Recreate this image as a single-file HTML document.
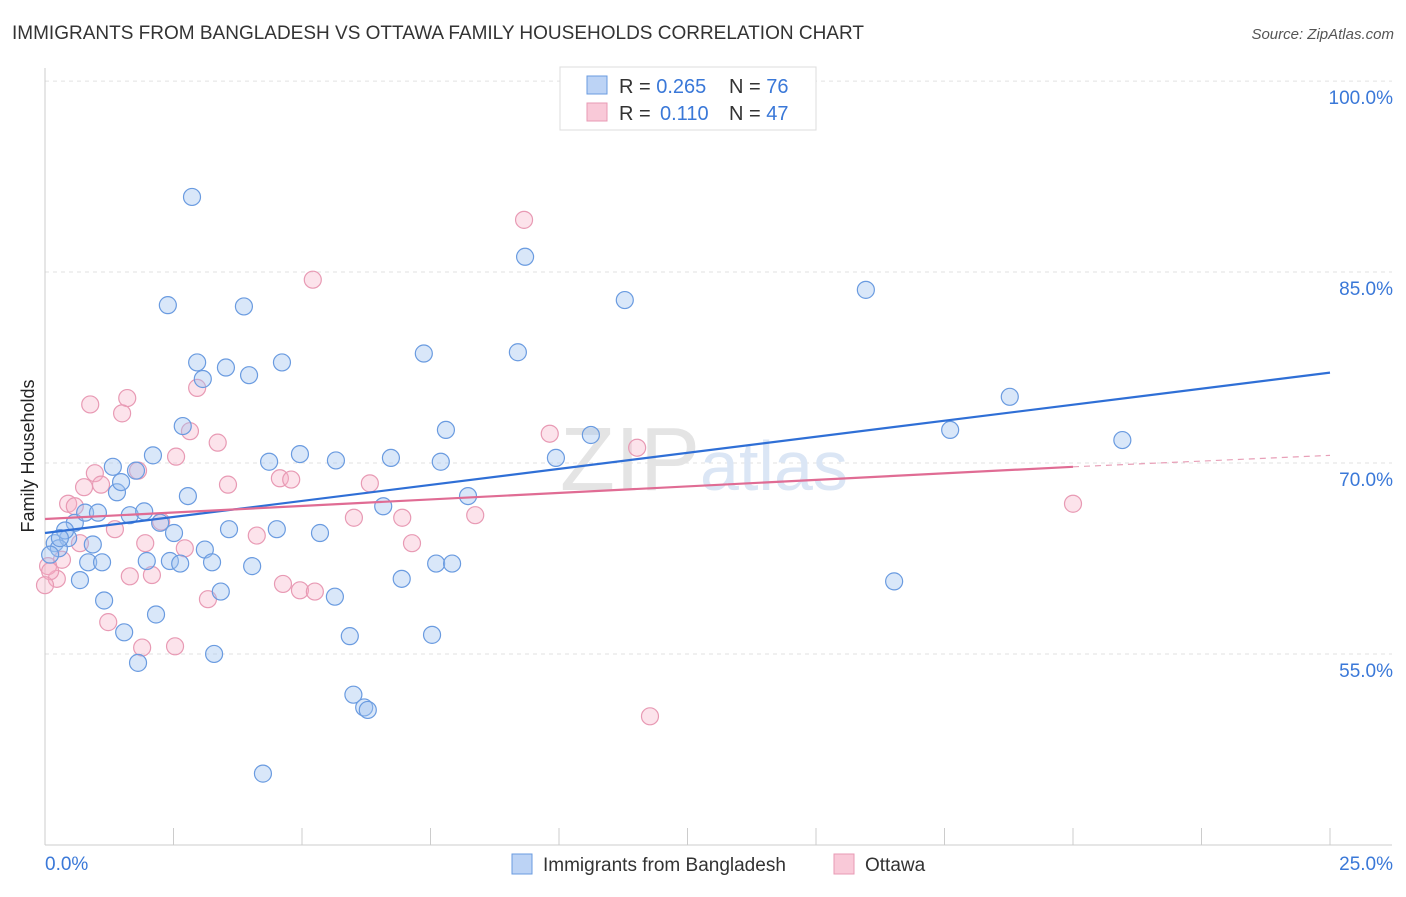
<!DOCTYPE html>
<html><head><meta charset="utf-8">
<style>
body{margin:0;background:#fff;font-family:"Liberation Sans",sans-serif;}
svg text{font-family:"Liberation Sans",sans-serif;}
</style></head>
<body>
<svg id="chart" width="1406" height="892" xmlns="http://www.w3.org/2000/svg">
<text x="12" y="39" font-size="19" fill="#333">IMMIGRANTS FROM BANGLADESH VS OTTAWA FAMILY HOUSEHOLDS CORRELATION CHART</text>
<text x="1394" y="39" font-size="15" fill="#555" font-style="italic" text-anchor="end">Source: ZipAtlas.com</text>
<text x="0" y="0" transform="translate(34,456) rotate(-90)" font-size="18" fill="#222" text-anchor="middle">Family Households</text>
<g id="grid"></g>
<g id="ticks"></g>
<text x="560" y="490" font-size="90" fill="#e4e4e4" font-family="Liberation Serif">ZIP<tspan fill="#dbe6f5" font-family="Liberation Sans" font-size="70">atlas</tspan></text>
<g id="pts"></g>
<g id="lines"></g>
<g>
<rect x="560" y="67" width="256" height="63" fill="#fff" stroke="#ddd"/>
<rect x="587" y="76" width="20" height="18" fill="#bcd3f5" stroke="#6a9be0"/>
<rect x="587" y="103" width="20" height="18" fill="#f9c9d8" stroke="#e89ab4"/>
<text x="619" y="93" font-size="20" fill="#333">R = <tspan fill="#3a78d8">0.265</tspan><tspan x="729">N = </tspan><tspan fill="#3a78d8">76</tspan></text>
<text x="619" y="120" font-size="20" fill="#333">R = <tspan fill="#3a78d8" x="660">0.110</tspan><tspan x="729">N = </tspan><tspan fill="#3a78d8">47</tspan></text>
</g>
<g>
<rect x="512" y="854" width="20" height="20" fill="#bcd3f5" stroke="#6a9be0"/>
<text x="543" y="871" font-size="19" fill="#333">Immigrants from Bangladesh</text>
<rect x="834" y="854" width="20" height="20" fill="#f9c9d8" stroke="#e89ab4"/>
<text x="865" y="871" font-size="19" fill="#333">Ottawa</text>
</g>
</svg>
<script>
const yTicks=[55,70,85,100];
const yTickLabels=["55.0%","70.0%","85.0%","100.0%"];
const xTickLabels=["0.0%","25.0%"];
const blueX=[2.86,9.34,2.39,3.87,11.28,15.97,7.37,9.2,2.96,4.61,3.52,3.07,3.97,18.77,17.61,20.96,2.68,7.8,10.62,2.1,4.96,6.73,5.66,7.7,9.94,1.32,1.77,4.36,1.4,1.48,2.78,8.23,6.58,0.58,0.78,1.03,1.65,1.93,2.24,2.51,3.58,4.51,5.35,0.19,0.45,0.93,0.27,3.11,0.1,0.84,1.11,1.98,2.43,2.63,3.25,4.03,7.61,7.92,6.94,0.68,16.52,3.42,1.15,5.64,2.16,1.54,5.93,7.53,1.81,3.29,6.0,6.21,6.28,4.24,0.39,0.29];
const blueY=[90.9,86.2,82.4,82.3,82.8,83.6,78.6,78.7,77.9,77.9,77.5,76.6,76.9,75.2,72.6,71.8,72.9,72.6,72.2,70.6,70.7,70.4,70.2,70.1,70.4,69.7,69.4,70.1,67.7,68.5,67.4,67.4,66.6,65.3,66.1,66.1,65.9,66.2,65.3,64.5,64.8,64.8,64.5,63.7,64.1,63.6,63.3,63.2,62.8,62.2,62.2,62.3,62.3,62.1,62.2,61.9,62.1,62.1,60.9,60.8,60.7,59.9,59.2,59.5,58.1,56.7,56.4,56.5,54.3,55.0,51.8,50.8,50.6,45.6,64.7,64.1];
const pinkX=[9.32,5.21,1.6,0.88,1.5,2.96,2.82,3.36,9.82,11.52,2.55,1.81,0.97,1.09,0.76,3.56,4.57,4.79,6.32,0.45,0.58,8.37,6.01,6.95,20.0,2.26,1.36,4.12,7.14,0.68,0.33,2.72,1.95,1.65,2.08,0.23,4.63,4.96,5.25,3.17,1.23,1.89,2.53,11.77,0.06,0.1,0.0];
const pinkY=[89.1,84.4,75.1,74.6,73.9,75.9,72.5,71.6,72.3,71.2,70.5,69.4,69.2,68.3,68.1,68.3,68.8,68.7,68.4,66.8,66.6,65.9,65.7,65.7,66.8,65.4,64.8,64.3,63.7,63.7,62.4,63.3,63.7,61.1,61.2,60.9,60.5,60.0,59.9,59.3,57.5,55.5,55.6,50.1,61.9,61.5,60.4];
const blueTrend=[64.5,77.1];
const pinkTrend=[65.6,69.7,70.6]; // at x=0, 20, 25
const NS="http://www.w3.org/2000/svg";
const X=v=>45+v*51.4, Y=v=>463-(v-70)*12.73;
function mk(t,a,p){const e=document.createElementNS(NS,t);for(const k in a)e.setAttribute(k,a[k]);p.appendChild(e);return e;}
const grid=document.getElementById('grid'),ticks=document.getElementById('ticks');
yTicks.forEach((v,i)=>{
 const l=mk('line',{x1:45,x2:1392,y1:Y(v),y2:Y(v),stroke:'#e2e2e2','stroke-dasharray':'4,4'},grid);
 
 
 const t=mk('text',{x:1393,y:Y(v)+23,'font-size':19,fill:'#3a78d8','text-anchor':'end'},ticks);
 t.textContent=yTickLabels[i];
 
 
});
mk('line',{x1:45,x2:45,y1:68,y2:845,stroke:'#ccc'},ticks);
mk('line',{x1:45,x2:1392,y1:845,y2:845,stroke:'#ccc'},ticks);
for(let i=0;i<=10;i++){mk('line',{x1:X(i*2.5),x2:X(i*2.5),y1:828,y2:845,stroke:'#ccc'},ticks);}
[[0,45,'start'],[1,1393,'end']].forEach(([i,x,a])=>{const t=mk('text',{x:x,y:870,'font-size':19,fill:'#3a78d8','text-anchor':a},ticks);t.textContent=xTickLabels[i];
 
 });
const pts=document.getElementById('pts');
pinkX.forEach((x,i)=>{const c=mk('circle',{cx:X(x),cy:Y(pinkY[i]),r:8.5,fill:'rgba(245,175,198,0.35)',stroke:'#e89ab4','stroke-width':1.2},pts);
 
 });
blueX.forEach((x,i)=>{const c=mk('circle',{cx:X(x),cy:Y(blueY[i]),r:8.5,fill:'rgba(160,194,240,0.4)',stroke:'#6a9be0','stroke-width':1.2},pts);
 
 });
const lines=document.getElementById('lines');
let l=mk('line',{x1:X(0),y1:Y(blueTrend[0]),x2:X(25),y2:Y(blueTrend[1]),stroke:'#2f6fd6','stroke-width':2.2},lines);


l=mk('line',{x1:X(0),y1:Y(pinkTrend[0]),x2:X(20),y2:Y(pinkTrend[1]),stroke:'#e06c94','stroke-width':2.2},lines);


l=mk('line',{x1:X(20),y1:Y(pinkTrend[1]),x2:X(25),y2:Y(pinkTrend[2]),stroke:'#e8a0b8','stroke-width':1.2,'stroke-dasharray':'6,5'},lines);


</script>
</body></html>
